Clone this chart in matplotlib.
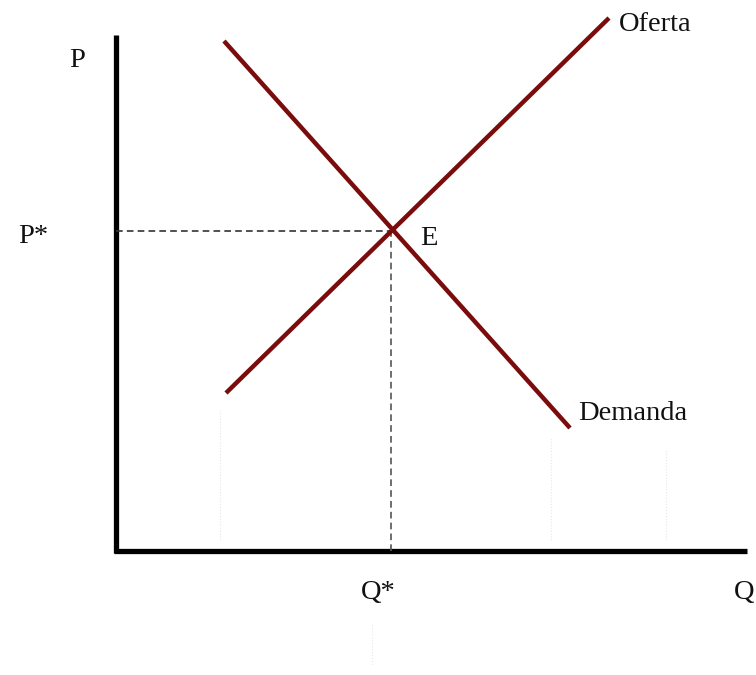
import matplotlib
matplotlib.use("Agg")
import matplotlib.pyplot as plt

# Oferta y demanda (unidades arbitrarias, origen en el cruce de los ejes)
oferta_q = [110, 493]
oferta_p = [158, 533]
demanda_q = [108, 454]
demanda_p = [510, 123]
q_eq = 275
p_eq = 320

# extremos de los ejes
p_max = 516
q_max = 631

# lineas guia muy tenues del original (escaneado)
guias_q = [104, 435, 550]
guias_p = [[11, 141], [11, 114], [11, 101]]

rojo = "#7a0c0c"

fig = plt.figure(figsize=(7.56, 6.75), dpi=100)
ax = fig.add_axes([0, 0, 1, 1])
ax.set_xlim(-116, 640)
ax.set_ylim(-124, 551)
ax.axis("off")

plt.rcParams["font.family"] = ["Liberation Serif", "DejaVu Serif"]
fs = 20.5

# ejes
ax.plot([0, 0], [-2, p_max], color="black", lw=3.8, solid_capstyle="butt")
ax.plot([-2, q_max], [0, 0], color="black", lw=3.8, solid_capstyle="butt")

# guias tenues
for q, (p0, p1) in zip(guias_q, guias_p):
    ax.plot([q, q], [p0, p1], color="#e6e6e6", lw=0.8, ls=":")
ax.plot([256, 256], [-74, -114], color="#e6e6e6", lw=0.8, ls=":")

# lineas punteadas del equilibrio
ax.plot([0, q_eq], [p_eq, p_eq], color="#333333", lw=1.2, ls=(0, (4, 2.5)))
ax.plot([q_eq, q_eq], [0, p_eq], color="#555555", lw=1.2, ls=(0, (4, 2.5)))

# curvas
ax.plot(oferta_q, oferta_p, color=rojo, lw=3.2, solid_capstyle="butt")
ax.plot(demanda_q, demanda_p, color=rojo, lw=3.2, solid_capstyle="butt")

# textos
ax.text(-47, 484, "P", fontsize=fs, va="baseline", ha="left", color="#111111")
ax.text(-98, 308, "P*", fontsize=fs, va="baseline", ha="left", color="#111111")
ax.text(304, 306, "E", fontsize=fs, va="baseline", ha="left", color="#111111")
ax.text(503, 520, "Oferta", fontsize=fs, va="baseline", ha="left", color="#111111")
ax.text(462, 131, "Demanda", fontsize=fs, va="baseline", ha="left", color="#111111")
ax.text(245, -48, "Q*", fontsize=fs, va="baseline", ha="left", color="#111111")
ax.text(618, -48, "Q", fontsize=fs, va="baseline", ha="left", color="#111111")

fig.savefig("out.png", dpi=100)
